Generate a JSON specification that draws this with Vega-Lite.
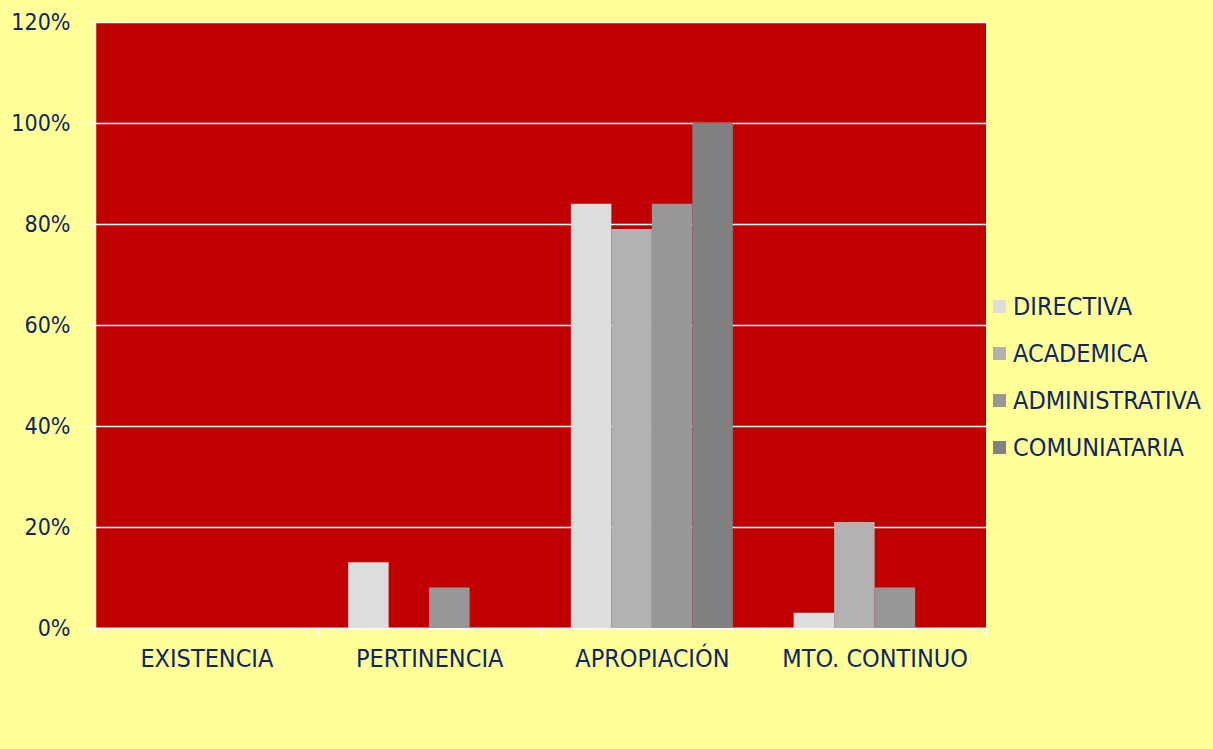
{
  "$schema": "https://vega.github.io/schema/vega-lite/v6.json",
  "autosize": {"type": "none"},
  "width": 891,
  "height": 606,
  "padding": {"left": 95, "top": 22, "right": 227, "bottom": 121},
  "background": "#FFFF99",
  "data": {"values": [
    {"cat": "EXISTENCIA", "area": "DIRECTIVA", "v": 0},
    {"cat": "EXISTENCIA", "area": "ACADEMICA", "v": 0},
    {"cat": "EXISTENCIA", "area": "ADMINISTRATIVA", "v": 0},
    {"cat": "EXISTENCIA", "area": "COMUNIATARIA", "v": 0},
    {"cat": "PERTINENCIA", "area": "DIRECTIVA", "v": 0.13},
    {"cat": "PERTINENCIA", "area": "ACADEMICA", "v": 0},
    {"cat": "PERTINENCIA", "area": "ADMINISTRATIVA", "v": 0.08},
    {"cat": "PERTINENCIA", "area": "COMUNIATARIA", "v": 0},
    {"cat": "APROPIACIÓN", "area": "DIRECTIVA", "v": 0.84},
    {"cat": "APROPIACIÓN", "area": "ACADEMICA", "v": 0.79},
    {"cat": "APROPIACIÓN", "area": "ADMINISTRATIVA", "v": 0.84},
    {"cat": "APROPIACIÓN", "area": "COMUNIATARIA", "v": 1.0},
    {"cat": "MTO. CONTINUO", "area": "DIRECTIVA", "v": 0.03},
    {"cat": "MTO. CONTINUO", "area": "ACADEMICA", "v": 0.21},
    {"cat": "MTO. CONTINUO", "area": "ADMINISTRATIVA", "v": 0.08},
    {"cat": "MTO. CONTINUO", "area": "COMUNIATARIA", "v": 0}
  ]},
  "mark": {"type": "bar"},
  "encoding": {
    "x": {
      "field": "cat", "type": "nominal",
      "sort": ["EXISTENCIA", "PERTINENCIA", "APROPIACIÓN", "MTO. CONTINUO"],
      "scale": {"paddingInner": 0, "paddingOuter": 0},
      "axis": {
        "title": null, "labelAngle": 0, "tickBand": "extent", "labelLimit": 0,
        "domainColor": "white", "domainWidth": 1.5,
        "tickColor": "white", "tickSize": 8, "tickWidth": 1.5,
        "labelFont": "DejaVu Sans Condensed", "labelFontSize": 25, "labelColor": "#0F2660",
        "labelPadding": 10
      }
    },
    "xOffset": {
      "field": "area", "type": "nominal",
      "sort": ["DIRECTIVA", "ACADEMICA", "ADMINISTRATIVA", "COMUNIATARIA"],
      "scale": {"paddingInner": 0, "paddingOuter": 0.75}
    },
    "y": {
      "field": "v", "type": "quantitative",
      "scale": {"domain": [0, 1.2], "nice": false},
      "axis": {
        "title": null, "format": ".0%", "values": [0, 0.2, 0.4, 0.6, 0.8, 1.0, 1.2],
        "domainColor": "white", "domainWidth": 1.5,
        "tickColor": "white", "tickSize": 8, "tickWidth": 1.5,
        "gridColor": "white", "gridWidth": 1.5, "gridOpacity": 1,
        "labelFont": "DejaVu Sans Condensed", "labelFontSize": 23, "labelColor": "#0F2660",
        "labelPadding": 17
      }
    },
    "color": {
      "field": "area", "type": "nominal",
      "sort": ["DIRECTIVA", "ACADEMICA", "ADMINISTRATIVA", "COMUNIATARIA"],
      "scale": {"domain": ["DIRECTIVA", "ACADEMICA", "ADMINISTRATIVA", "COMUNIATARIA"], "range": ["#DDDDDD", "#B2B2B2", "#979797", "#808080"]},
      "legend": {
        "title": null, "orient": "none", "legendX": 892, "legendY": 272,
        "symbolType": "square", "symbolSize": 169, "symbolStrokeWidth": 0, "symbolOpacity": 1,
        "labelFont": "DejaVu Sans Condensed", "labelFontSize": 25, "labelColor": "#0F2660",
        "labelLimit": 0, "rowPadding": 21, "labelOffset": 1
      }
    }
  },
  "config": {
    "view": {"fill": "#C00000", "stroke": null}
  }
}
